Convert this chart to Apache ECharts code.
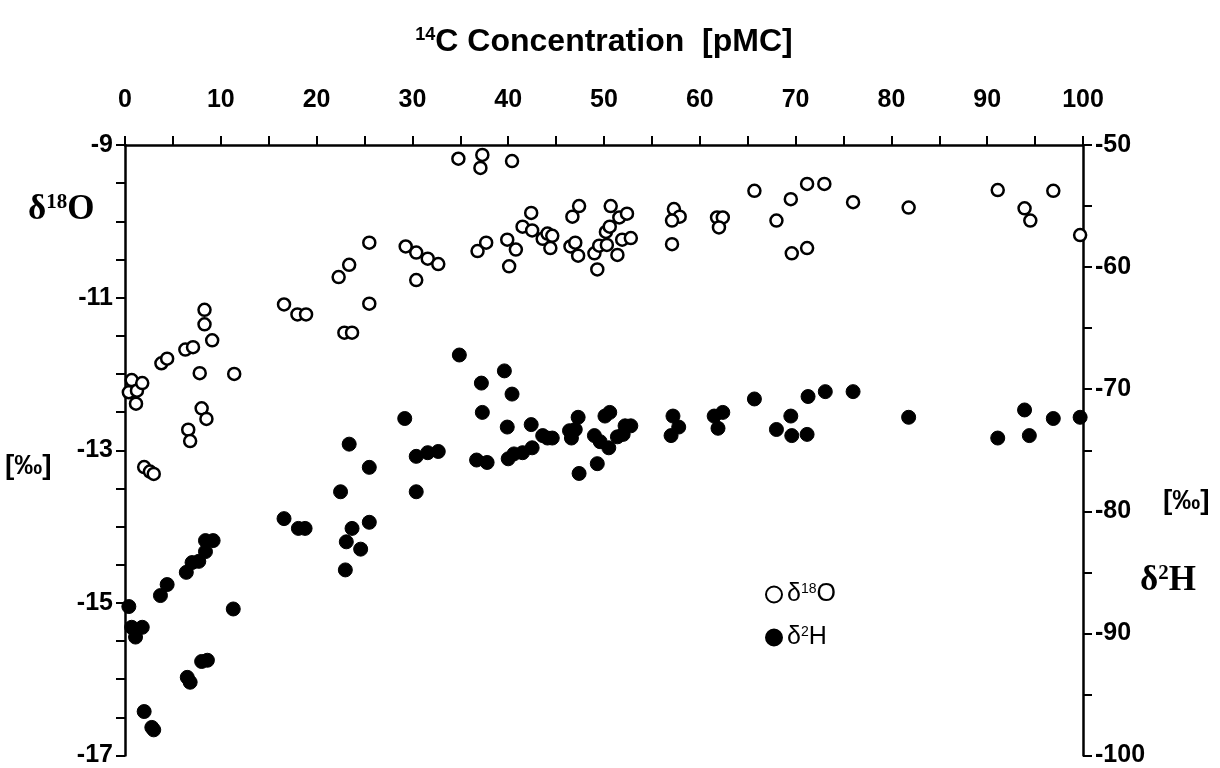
<!DOCTYPE html>
<html>
<head>
<meta charset="utf-8">
<script src="https://cdn.jsdelivr.net/npm/echarts@6/dist/echarts.min.js"></script>
<style>html,body{margin:0;padding:0;background:#fff;}#c{width:1220px;height:768px;}</style>
</head>
<body>
<div id="c"></div>
<script>
// δ18O (‰) vs 14C (pMC)
const o18X = [0.7,0.4,1.25,1.8,1.15,3.8,4.4,6.3,7.1,9.1,7.8,11.4,8.0,8.5,6.6,6.8,2.0,2.6,3.0,
  8.3,8.3,16.6,18.0,18.9,22.3,23.4,25.5,25.5,22.9,23.7,
  34.8,37.3,37.1,40.4,29.3,30.4,31.6,32.7,30.4,36.8,37.7,39.9,40.8,40.1,41.5,42.4,42.5,43.6,44.1,44.6,44.4,
  46.7,47.4,46.5,47.0,47.3,49.0,49.3,49.5,50.3,50.2,50.6,50.7,51.6,52.4,51.4,51.9,52.8,
  57.3,57.9,57.1,57.1,61.8,62.4,62.0,
  65.7,68.0,69.5,69.6,71.2,71.2,73.0,76.0,81.8,91.1,93.9,94.5,96.9,99.7];
const o18Y = [-12.08,-12.24,-12.22,-12.12,-12.39,-11.86,-11.80,-11.68,-11.65,-11.56,-11.99,-12.0,-12.45,-12.59,-12.73,-12.88,-13.22,-13.28,-13.31,
  -11.16,-11.35,-11.09,-11.22,-11.22,-10.73,-10.57,-10.28,-11.08,-11.46,-11.46,
  -9.18,-9.13,-9.30,-9.21,-10.33,-10.41,-10.49,-10.56,-10.77,-10.39,-10.28,-10.24,-10.37,-10.59,-10.07,-9.89,-10.12,-10.23,-10.16,-10.19,-10.35,
  -9.94,-9.80,-10.33,-10.28,-10.45,-10.42,-10.63,-10.32,-10.31,-10.14,-10.07,-9.80,-9.95,-9.90,-10.44,-10.24,-10.22,
  -9.84,-9.94,-9.99,-10.30,-9.95,-9.95,-10.08,
  -9.60,-9.99,-9.71,-10.42,-9.51,-10.35,-9.51,-9.75,-9.82,-9.59,-9.83,-9.99,-9.60,-10.18];
// δ2H (‰) vs 14C (pMC)
const h2X = [0.4,0.7,1.1,1.8,2.0,2.8,3.0,3.7,4.4,6.4,7.0,7.7,8.4,8.4,9.2,11.3,6.5,6.8,8.0,8.6,
  16.6,18.1,18.8,22.5,23.4,25.5,23.7,25.5,23.1,24.6,23.0,
  34.9,39.6,37.2,40.4,37.3,29.2,39.9,42.4,30.4,31.6,32.7,30.4,36.7,37.8,40.0,40.6,41.5,42.5,43.6,44.1,44.6,
  47.3,46.4,46.6,47.0,47.4,49.0,49.6,50.5,49.3,50.1,50.6,51.4,52.0,52.2,52.8,
  57.2,57.8,57.0,61.5,62.4,61.9,
  65.7,68.0,69.5,69.6,71.2,71.3,73.1,76.0,81.8,91.1,93.9,94.4,96.9,99.7];
const h2Y = [-87.8,-89.5,-90.3,-89.5,-96.4,-97.7,-97.9,-86.9,-86.0,-85.0,-84.2,-84.1,-83.3,-82.4,-82.4,-88.0,-93.6,-94.0,-92.3,-92.2,
  -80.6,-81.4,-81.4,-78.4,-74.5,-76.4,-81.4,-80.9,-82.5,-83.1,-84.8,
  -67.2,-68.5,-69.5,-70.4,-71.9,-72.4,-73.1,-72.9,-75.5,-75.2,-75.1,-78.4,-75.8,-76.0,-75.7,-75.3,-75.2,-74.8,-73.8,-74.0,-74.0,
  -72.3,-73.4,-74.0,-73.3,-76.9,-73.8,-74.3,-74.8,-76.1,-72.2,-71.9,-73.9,-73.7,-73.0,-73.0,
  -72.2,-73.1,-73.8,-72.2,-71.9,-73.2,
  -70.8,-73.3,-72.2,-73.8,-73.7,-70.6,-70.2,-70.2,-72.3,-74.0,-71.7,-73.8,-72.4,-72.3];
const xTicks = [0,10,20,30,40,50,60,70,80,90,100];
const leftTicks = [-9,-11,-13,-15,-17];
const rightTicks = [-50,-60,-70,-80,-90,-100];

const zip = (a,b) => a.map((v,i)=>[v,b[i]]);
const narrow = "'Liberation Sans Narrow','Arial Narrow','Liberation Sans',Arial,sans-serif";
const sans = "'Liberation Sans',Arial,sans-serif";
const serif = "'Liberation Serif','Times New Roman',serif";

const chart = echarts.init(document.getElementById('c'), null, {renderer:'canvas'});
chart.setOption({
  animation: false,
  backgroundColor: '#fff',
  grid: {left:125, right:137, top:145, bottom:11, containLabel:false},
  xAxis: {
    type:'value', position:'top', min:0, max:100, interval:5,
    axisLine:{show:true, onZero:false, lineStyle:{color:'#000', width:2.5}},
    axisTick:{show:true, inside:false, length:9, lineStyle:{color:'#000', width:2}},
    splitLine:{show:false},
    axisLabel:{show:true, margin:32, color:'#000', fontFamily:narrow, fontSize:25, fontWeight:'bold',
      formatter: v => xTicks.includes(v) ? String(v) : ''},
    name:'{s|14}{t|C Concentration  [pMC]}', nameLocation:'middle', nameGap:87,
    nameTextStyle:{rich:{
      s:{fontFamily:narrow, fontSize:18, fontWeight:'bold', color:'#000', verticalAlign:'top', padding:[0,0,14,0]},
      t:{fontFamily:narrow, fontSize:32, fontWeight:'bold', color:'#000'}}}
  },
  yAxis: [{
    type:'value', position:'left', min:-17, max:-9, interval:0.5,
    axisLine:{show:true, onZero:false, lineStyle:{color:'#000', width:2.5}},
    axisTick:{show:true, inside:false, length:9, lineStyle:{color:'#000', width:2}},
    splitLine:{show:false},
    axisLabel:{show:true, margin:12, color:'#000', fontFamily:sans, fontSize:25, fontWeight:'bold',
      formatter: v => leftTicks.includes(v) ? String(v) : ''}
  },{
    type:'value', position:'right', min:-100, max:-50, interval:5,
    axisLine:{show:true, onZero:false, lineStyle:{color:'#000', width:2.5}},
    axisTick:{show:true, inside:false, length:9, lineStyle:{color:'#000', width:2}},
    splitLine:{show:false},
    axisLabel:{show:true, margin:12, color:'#000', fontFamily:sans, fontSize:25, fontWeight:'bold',
      formatter: v => rightTicks.includes(v) ? String(v) : ''}
  }],
  legend: {
    orient:'vertical', left:760, top:577, itemGap:18, itemWidth:16, itemHeight:16,
    icon:'circle',
    data:['δ18O','δ2H'],
    formatter: n => n==='δ18O' ? '{t|δ}{s|18}{t|O}' : '{t|δ}{s|2}{t|H}',
    textStyle:{rich:{
      t:{fontFamily:narrow, fontSize:25, color:'#000'},
      s:{fontFamily:narrow, fontSize:14, color:'#000', verticalAlign:'top', padding:[0,0,10,0]}}}
  },
  series: [{
    name:'δ18O', type:'scatter', yAxisIndex:0, data: zip(o18X,o18Y),
    symbol:'circle', symbolSize:12,
    itemStyle:{color:'#fff', borderColor:'#000', borderWidth:2.5, opacity:1}
  },{
    name:'δ2H', type:'scatter', yAxisIndex:1, data: zip(h2X,h2Y),
    symbol:'circle', symbolSize:14,
    itemStyle:{color:'#000', borderColor:'#000', borderWidth:1, opacity:1}
  }],
  graphic: [
    {type:'text', left:28, top:192, style:{text:'{d|δ}{s|18}{d|O}', rich:{
      d:{fontFamily:serif, fontSize:35, fontWeight:'bold', fill:'#000'},
      s:{fontFamily:serif, fontSize:21, fontWeight:'bold', fill:'#000', verticalAlign:'top', padding:[0,0,13,0]}}}},
    {type:'text', left:5, top:452, style:{text:'[‰]', font:"bold 28px "+narrow, fill:'#000'}},
    {type:'text', left:1163, top:487, style:{text:'[‰]', font:"bold 28px "+narrow, fill:'#000'}},
    {type:'text', left:1140, top:563, style:{text:'{d|δ}{s|2}{d|H}', rich:{
      d:{fontFamily:serif, fontSize:35, fontWeight:'bold', fill:'#000'},
      s:{fontFamily:serif, fontSize:21, fontWeight:'bold', fill:'#000', verticalAlign:'top', padding:[0,0,13,0]}}}}
  ]
});
</script>
</body>
</html>
